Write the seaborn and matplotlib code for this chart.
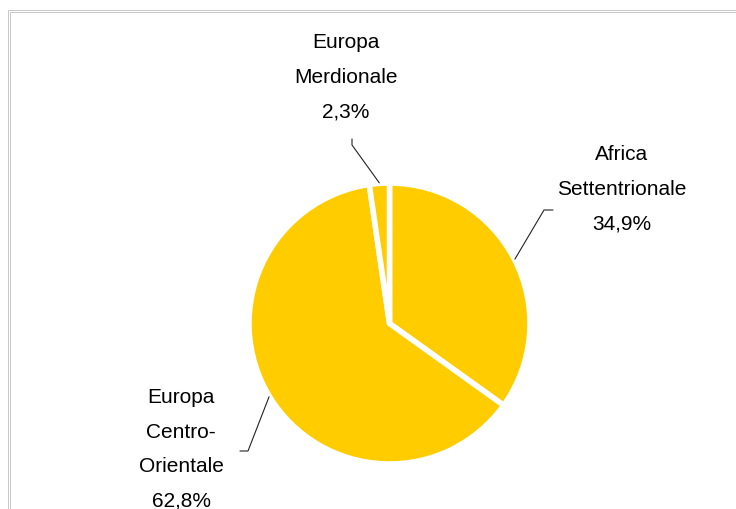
import numpy as np
import matplotlib
matplotlib.use("Agg")
import matplotlib.pyplot as plt
import seaborn as sns

# Data
regions = ["Africa\nSettentrionale", "Europa\nCentro-\nOrientale", "Europa\nMerdionale"]
shares = [34.9, 62.8, 2.3]
share_labels = ["34,9%", "62,8%", "2,3%"]

# Label placement (pixel coords of the reference image) and leader line elbows
label_xy = [(622, 155), (181, 398), (346, 43)]
elbows = [[(544, 211), (553, 211)], [(248, 452), (240, 452)], [(352, 146), (352, 140)]]

W, H = 736, 510
sns.set_theme(style="white")
plt.rcParams["font.family"] = ["Liberation Sans", "DejaVu Sans"]

fig = plt.figure(figsize=(W / 100, H / 100), dpi=100)
ax = fig.add_axes([0, 0, 1, 1])

cx, cy, radius = 389.5, H - 324.5, 140.5
color = sns.color_palette(["#FFCC00"])[0]
wedges, _ = ax.pie(shares, colors=[color] * len(shares), startangle=90, counterclock=False,
                   center=(cx, cy), radius=radius, frame=True,
                   wedgeprops=dict(edgecolor="white", linewidth=4))
ax.set_xlim(0, W)
ax.set_ylim(0, H)
ax.set_aspect("equal")
ax.axis("off")

# Labels with leader lines
step = 34.5
for w, name, pct, (lx, ly), elbow in zip(wedges, regions, share_labels, label_xy, elbows):
    mid = np.deg2rad((w.theta1 + w.theta2) / 2)
    ax_pt = (cx + 141 * np.cos(mid), cy + 141 * np.sin(mid))
    xs = [ax_pt[0]] + [p[0] for p in elbow]
    ys = [ax_pt[1]] + [H - p[1] for p in elbow]
    ax.plot(xs, ys, color="#222222", lw=0.8)
    lines = name.split("\n") + [pct]
    for i, line in enumerate(lines):
        ax.text(lx, H - (ly + i * step), line, ha="center", va="center",
                fontsize=15, color="black")

# Double grey frame along top and left (cropped chart border)
for off in (7.5, 9.5):
    top = H - (off + 3)
    ax.plot([off, W], [top, top], color="#c8c8c8", lw=0.72, solid_capstyle="butt")
    ax.plot([off, off], [0, top], color="#c8c8c8", lw=0.72, solid_capstyle="butt")

fig.savefig("out.png", dpi=100)
